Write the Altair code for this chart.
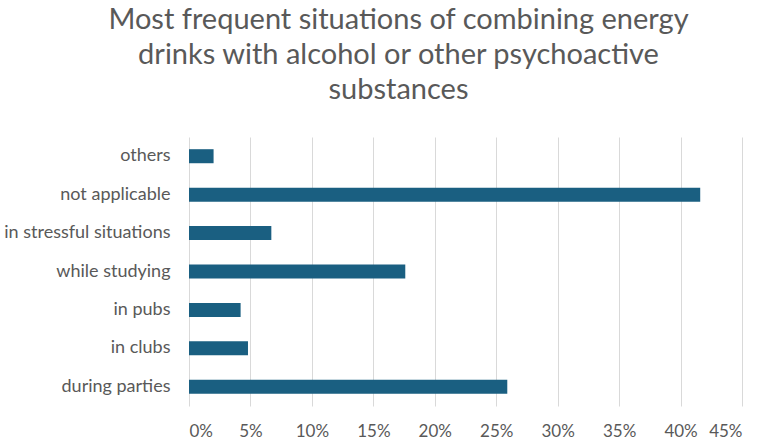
import altair as alt
import pandas as pd

categories = ["others", "not applicable", "in stressful situations", "while studying ",
              "in pubs", "in clubs", "during parties"]
values = [0.020, 0.416, 0.067, 0.176, 0.042, 0.048, 0.259]
tick_values = [0, 0.05, 0.10, 0.15, 0.20, 0.25, 0.30, 0.35, 0.40, 0.45]
title_lines = ["Most frequent situations of combining energy",
               "drinks with alcohol or other psychoactive",
               "substances"]

df = pd.DataFrame({"situation": categories, "share": values})

FONT = "Lato"
GRAY = "#595959"

chart = alt.Chart(df).mark_bar(color="#1A5F81").encode(
    y=alt.Y("situation:N", sort=categories, title=None,
            scale=alt.Scale(paddingInner=0.635, paddingOuter=0.3175),
            axis=alt.Axis(domain=False, ticks=False, labelFontSize=18, labelColor=GRAY,
                          labelFont=FONT, labelPadding=19, grid=False)),
    x=alt.X("share:Q", title=None,
            scale=alt.Scale(domain=[0, 0.45], nice=False),
            axis=alt.Axis(values=tick_values, format=".0%", domain=False, ticks=False,
                          labelFontSize=17, labelColor=GRAY, labelFont=FONT, labelPadding=17,
                          grid=True, gridColor="#D9D9D9", gridWidth=1)),
).properties(
    width=553,
    height=269,
    title=alt.TitleParams(text=title_lines, fontSize=29, font=FONT, color=GRAY,
                          fontWeight="normal", anchor="middle", dx=-67, offset=32,
                          lineHeight=35),
    autosize=alt.AutoSizeParams(type="none"),
    padding={"left": 189, "top": 137, "right": 19, "bottom": 34},
).configure_view(stroke=None)

chart.save("out.html", embed_options={"renderer": "svg", "actions": False})
